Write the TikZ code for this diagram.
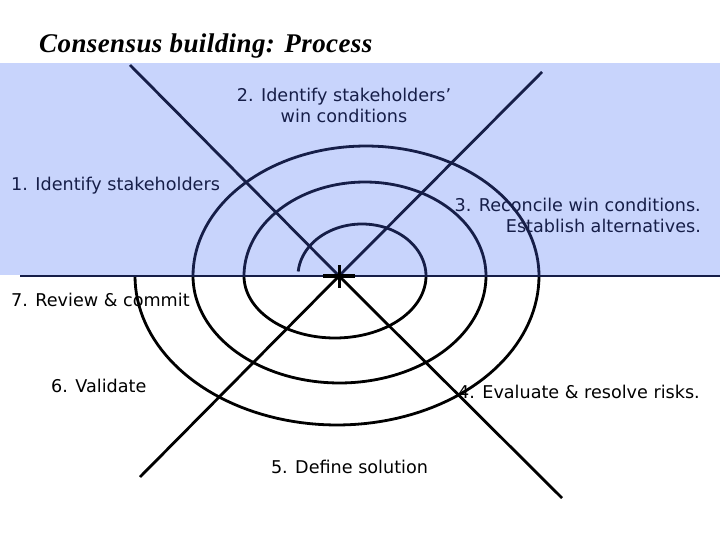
\documentclass[tikz,border=0pt]{standalone}
\usepackage{fontspec}
\setmainfont{DejaVu Sans}
\newfontfamily\titlefont[LetterSpace=1.5]{Liberation Serif}
\definecolor{bluebg}{RGB}{200,212,252}
\definecolor{navy}{RGB}{22,30,72}
\begin{document}
\begin{tikzpicture}[x=1pt,y=-1pt,
  lab/.style={inner sep=0pt, font=\fontsize{17.6}{21}\selectfont},
  toplab/.style={lab, text=navy},
  botlab/.style={lab, text=black},
  thick line/.style={line width=2.8pt},
]
\useasboundingbox (0,0) rectangle (720,540);
\fill[bluebg] (0,63) rectangle (720,275);

% coordinates
\coordinate (c) at (339,276);
\coordinate (ul) at (130,65);
\coordinate (lr) at (562,498);
\coordinate (ur) at (542,72);
\coordinate (ll) at (140,477);
\coordinate (hl) at (20,276);
\coordinate (hr) at (720,276);

% spiral: top arcs (navy), bottom arcs (black)
\draw[thick line, navy] plot[domain=185:360, samples=80] ({362+64*cos(\x)},{276+52*sin(\x)});
\draw[thick line, black] plot[domain=0:180, samples=80] ({335+91*cos(\x)},{276+62*sin(\x)});
\draw[thick line, navy] plot[domain=180:360, samples=80] ({365+121*cos(\x)},{276+94*sin(\x)});
\draw[thick line, black] plot[domain=0:180, samples=80] ({339.5+146.5*cos(\x)},{276+107*sin(\x)});
\draw[thick line, navy] plot[domain=180:360, samples=80] ({366+173*cos(\x)},{276+130*sin(\x)});
\draw[thick line, black] plot[domain=0:180, samples=80] ({337+202*cos(\x)},{276+149*sin(\x)});

% axes
\draw[line width=2.5pt, navy] (hl) -- (hr);
\draw[thick line, navy] (ul) -- (c);
\draw[thick line, navy] (ur) -- (c);
\draw[thick line, black] (c) -- (lr);
\draw[thick line, black] (c) -- (ll);
\draw[line width=3.5pt, black] (c) ++(-16,0) -- ++(32,0);
\draw[line width=3pt, black] (c) ++(0,-11) -- ++(0,23);

% title
\node[anchor=base west, inner sep=0pt] (title) at (39,53)
  {\titlefont\bfseries\itshape\fontsize{27}{30}\selectfont Consensus building: Process};

% labels (multi-line nodes: base anchor is on the last line)
\node[toplab, anchor=base, align=center] (l2) at (344,123)
  {2. Identify stakeholders’\\win conditions};
\node[toplab, anchor=base west] (l1) at (11,191) {1. Identify stakeholders};
\node[toplab, anchor=base east, align=right] (l3) at (701,233)
  {3. Reconcile win conditions.\\Establish alternatives.};
\node[botlab, anchor=base west] (l7) at (11,306) {7. Review \& commit};
\node[botlab, anchor=base west] (l6) at (51,392) {6. Validate};
\node[botlab, anchor=base east] (l4) at (700,398) {4. Evaluate \& resolve risks.};
\node[botlab, anchor=base] (l5) at (349.5,473) {5. Define solution};
\end{tikzpicture}
\end{document}
